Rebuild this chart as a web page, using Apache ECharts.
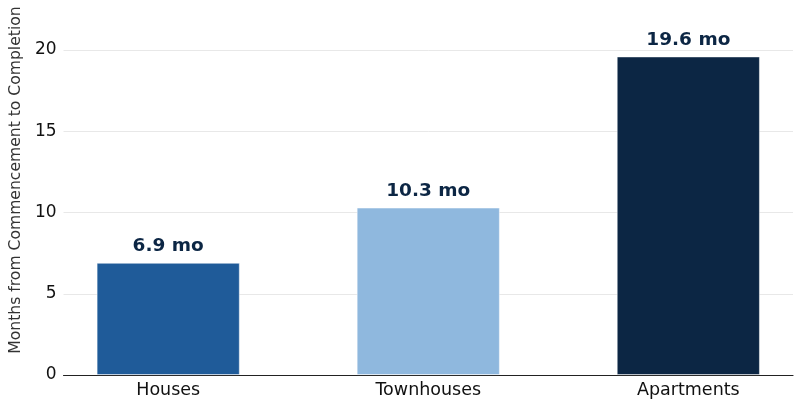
<!DOCTYPE html>
<html><head><meta charset="utf-8">
<script src="https://cdn.jsdelivr.net/npm/echarts@6/dist/echarts.min.js"></script>
<style>html,body{margin:0;padding:0;background:#fff}#c{width:803px;height:409px}</style>
</head><body><div id="c"></div>
<script>
const categories = ['Houses', 'Townhouses', 'Apartments'];
const values = [6.9, 10.3, 19.6];
const barColors = ['#1f5b99', '#8fb8de', '#0c2644'];
const yTicks = [0, 5, 10, 15, 20];

const chart = echarts.init(document.getElementById('c'), null, {renderer: 'canvas'});
const font = 'DejaVu Sans';
chart.setOption({
  animation: false,
  grid: {left: 62, right: 10, top: 0, bottom: 34, containLabel: false},
  xAxis: {
    type: 'value', min: -0.4025, max: 2.4025,
    splitLine: {show: false},
    axisTick: {show: false},
    axisLine: {show: true, onZero: false, lineStyle: {color: '#222', width: 1.2}},
    axisLabel: {
      customValues: [0, 1, 2],
      formatter: v => categories[Math.round(v)] || '',
      color: '#111', fontSize: 17.5, fontFamily: font, margin: 6
    }
  },
  yAxis: {
    type: 'value', min: 0, max: 23.08, interval: 5,
    name: 'Months from Commencement to Completion',
    nameLocation: 'middle', nameGap: 38,
    nameTextStyle: {color: '#333', fontSize: 15.6, fontFamily: font, padding: [0, 0, 0, 15]},
    axisLine: {show: false}, axisTick: {show: false},
    axisLabel: {
      customValues: yTicks,
      color: '#111', fontSize: 17, fontFamily: font, margin: 7
    },
    splitLine: {show: false}
  },
  series: [{
    type: 'bar',
    barWidth: 143,
    data: values.map((v, i) => ({value: [i, v], itemStyle: {color: barColors[i], borderColor: 'rgba(255,255,255,0.6)', borderWidth: 0.8}})),
    label: {
      show: true, position: 'top', distance: 7,
      formatter: p => p.value[1].toFixed(1) + ' mo',
      color: '#0c2644', fontWeight: 'bold', fontSize: 18.5, fontFamily: font
    },
    markLine: {
      silent: true, symbol: 'none', z: 0,
      label: {show: false},
      lineStyle: {color: '#e8e8e8', width: 1, type: 'solid'},
      data: yTicks.slice(1).map(t => ({yAxis: t}))
    },
    z: 2
  }]
});
</script></body></html>
